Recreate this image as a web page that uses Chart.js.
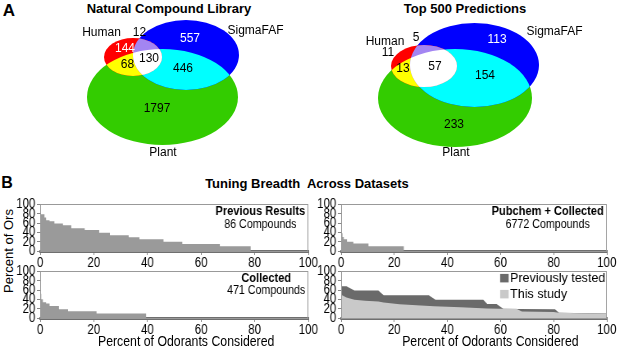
<!DOCTYPE html>
<html>
<head>
<meta charset="utf-8">
<script src="https://cdn.jsdelivr.net/npm/chart.js@4.4.1/dist/chart.umd.min.js"></script>
<style>
  html, body { margin: 0; padding: 0; background: #fff; }
  #fig { position: relative; width: 617px; height: 347px; overflow: hidden;
         font-family: "Liberation Sans", Arial, sans-serif; color: #000; }
  .t { position: absolute; white-space: pre; line-height: 1; transform: translate(-50%, -50%); }
  canvas { position: absolute; }
  /* the lower panels use a narrow type, so that block is squeezed sideways */
  #panelB { position: absolute; left: 0; top: 0; width: 753px; height: 347px;
            transform: scaleX(0.82); transform-origin: 0 0; }
</style>
</head>
<body>
<div id="fig">
  <div class="t" style="left:9px;top:10px;font-weight:bold;font-size:17px">A</div>
  <div class="t" style="left:169px;top:8px;font-weight:bold;font-size:13px">Natural Compound Library</div>
  <div class="t" style="left:465px;top:8px;font-weight:bold;font-size:13px">Top 500 Predictions</div>
  <canvas id="vennLib" width="300" height="170" style="left:0;top:0"></canvas>
  <canvas id="vennTop" width="317" height="170" style="left:300px;top:0"></canvas>

  <div class="t" style="left:7px;top:183px;font-weight:bold;font-size:16px">B</div>
  <div class="t" style="left:307px;top:183px;font-weight:bold;font-size:13px">Tuning Breadth  Across Datasets</div>
  <div class="t" style="left:8px;top:251px;font-size:13px;transform:translate(-50%,-50%) rotate(-90deg)">Percent of Ors</div>

  <div id="panelB">
    <canvas id="prev"  width="375" height="79" style="left:17px;top:194px"></canvas>
    <canvas id="pub"   width="372" height="79" style="left:384px;top:194px"></canvas>
    <canvas id="coll"  width="375" height="79" style="left:17px;top:261px"></canvas>
    <canvas id="study" width="372" height="79" style="left:384px;top:261px"></canvas>
    <div class="t" style="left:227px;top:340px;font-size:15px">Percent of Odorants Considered</div>
    <div class="t" style="left:598px;top:340px;font-size:15px">Percent of Odorants Considered</div>
  </div>
</div>

<script>
"use strict";

var FAMILY = '"Liberation Sans", Arial, sans-serif';
var SQUEEZE = 0.82;
Chart.defaults.font.family = FAMILY;
Chart.defaults.color = '#000';

// ---- Venn counts (regions: Human, Human+Sigma, Sigma, Human+Plant, all three, Sigma+Plant, Plant)
var setNames = ['Human', 'SigmaFAF', 'Plant'];
var libraryCounts = [144, 12, 557, 68, 130, 446, 1797];
var top500Counts = [11, 5, 113, 13, 57, 154, 233];

// ---- Tuning breadth: percent of odorants considered (x) vs percent of ORs (y)
var xTicks = [0, 20, 40, 60, 80, 100];
var yTicks = [0, 20, 40, 60, 80, 100];

var prevResultsX = [0, 1.6, 2.2, 3.5, 5.3, 8.5, 11.6, 16.6, 22, 26, 33, 37, 46, 53, 67, 78.5, 100];
var prevResultsY = [79, 72, 66, 64, 59, 55, 49, 45, 39, 34, 29.5, 25, 20, 15, 10, 0, 0];

var pubchemX = [0, 0.5, 1, 2.2, 4.6, 10.3, 23.6, 100];
var pubchemY = [38, 30, 25, 20, 16, 10, 0, 0];

var collectedX = [0, 0.4, 1, 2.2, 3.5, 7, 10.4, 21, 39.5, 100];
var collectedY = [52, 40, 34, 31, 26, 19, 14.5, 9.7, 0, 0];

var testedX = [0, 2, 5, 14, 16, 33, 35.5, 53.5, 55, 58.5, 61, 67, 80.5, 82, 88, 100];
var testedY = [68, 68, 59, 59, 49, 49, 39, 39, 30, 30, 20, 19.5, 19, 11.5, 10.5, 9.5];

var thisStudyX = [0, 2, 5, 9, 14, 16, 22, 30, 35, 45, 55, 60, 66, 68, 80, 82, 90, 100];
var thisStudyY = [50, 44, 39, 37, 35.5, 33, 29.5, 27, 25, 23, 20.5, 20, 20, 14, 13, 11, 10, 9];

var pts = function(xs, ys) {
  return xs.map(function(x, i) { return {x: x, y: ys[i]}; });
};

// ---------------- Venn diagrams ----------------
var vennColors = {
  human: '#ff0000', sigma: '#0000ff', plant: '#33cc00',
  humanSigma: '#a385f2', humanPlant: '#ffff00', sigmaPlant: '#00ffff', all: '#ffffff'
};

var vennPlugin = {
  id: 'venn',
  beforeDatasetsDraw: function(chart, args, opts) {
    var ctx = chart.ctx, xs = chart.scales.x, ys = chart.scales.y;
    var shape = function(e) {
      var cx = xs.getPixelForValue(e.cx), cy = ys.getPixelForValue(e.cy);
      var rx = Math.abs(xs.getPixelForValue(e.cx + e.rx) - cx);
      var ry = Math.abs(ys.getPixelForValue(e.cy + e.ry) - cy);
      var p = new Path2D();
      p.ellipse(cx, cy, rx, ry, 0, 0, Math.PI * 2);
      return p;
    };
    var h = shape(opts.human), s = shape(opts.sigma), p = shape(opts.plant);
    var c = vennColors;
    ctx.save();
    ctx.fillStyle = c.plant; ctx.fill(p);
    ctx.fillStyle = c.sigma; ctx.fill(s);
    ctx.fillStyle = c.human; ctx.fill(h);
    ctx.save(); ctx.clip(s); ctx.fillStyle = c.sigmaPlant; ctx.fill(p); ctx.restore();
    ctx.save();
    ctx.clip(h);
    ctx.fillStyle = c.humanPlant; ctx.fill(p);
    ctx.fillStyle = c.humanSigma; ctx.fill(s);
    ctx.clip(s);
    ctx.fillStyle = c.all; ctx.fill(p);
    ctx.restore();
    ctx.restore();
  },
  afterDatasetsDraw: function(chart) {
    var ctx = chart.ctx;
    ctx.save();
    ctx.font = '12px ' + FAMILY;
    ctx.textAlign = 'center';
    ctx.textBaseline = 'middle';
    chart.data.datasets.forEach(function(ds, di) {
      chart.getDatasetMeta(di).data.forEach(function(pt, i) {
        ctx.fillStyle = ds.textColors[i];
        ctx.fillText(ds.texts[i], pt.x, pt.y);
      });
    });
    ctx.restore();
  }
};

function vennChart(id, w, h, counts, countPos, countColors, namePos, shapes) {
  return new Chart(document.getElementById(id), {
    type: 'scatter',
    data: {
      datasets: [
        { data: namePos, texts: setNames, textColors: ['#000', '#000', '#000'], pointRadius: 0 },
        { data: countPos, texts: counts.map(String), textColors: countColors, pointRadius: 0 }
      ]
    },
    options: {
      responsive: false, animation: false, events: [],
      layout: { padding: 0 },
      scales: {
        x: { type: 'linear', min: 0, max: w, display: false },
        y: { type: 'linear', min: 0, max: h, reverse: true, display: false }
      },
      plugins: { legend: { display: false }, tooltip: { enabled: false }, venn: shapes }
    },
    plugins: [vennPlugin]
  });
}

vennChart('vennLib', 300, 170, libraryCounts,
  [{x: 125, y: 49}, {x: 139.5, y: 33}, {x: 190, y: 39}, {x: 127.5, y: 65},
   {x: 149, y: 59}, {x: 183, y: 69}, {x: 157, y: 109}],
  ['#fff', '#000', '#fff', '#000', '#000', '#000', '#000'],
  [{x: 101.5, y: 33}, {x: 255.5, y: 31}, {x: 163, y: 153}],
  {
    human: {cx: 133, cy: 57, rx: 29, ry: 19},
    sigma: {cx: 186, cy: 55, rx: 53, ry: 35},
    plant: {cx: 162.5, cy: 97, rx: 75.5, ry: 48}
  });

vennChart('vennTop', 317, 170, top500Counts,
  [{x: 88, y: 53}, {x: 116, y: 38}, {x: 197, y: 40}, {x: 103, y: 69},
   {x: 135, y: 67}, {x: 185, y: 76}, {x: 154, y: 125}],
  ['#000', '#000', '#fff', '#000', '#000', '#000', '#000'],
  [{x: 85, y: 42}, {x: 254.5, y: 32}, {x: 156, y: 153}],
  {
    human: {cx: 124, cy: 66, rx: 33, ry: 21},
    sigma: {cx: 174.5, cy: 65, rx: 64.5, ry: 42},
    plant: {cx: 155, cy: 98, rx: 77, ry: 49}
  });

// ---------------- Tuning breadth panels ----------------
var framePlugin = {
  id: 'frame',
  afterDatasetsDraw: function(chart) {
    var a = chart.chartArea, ctx = chart.ctx;
    ctx.save();
    ctx.strokeStyle = '#999';
    ctx.lineWidth = 1;
    ctx.strokeRect(Math.round(a.left) + 0.5, Math.round(a.top) + 0.5,
                   Math.round(a.right - a.left) - 1, Math.round(a.bottom - a.top));
    ctx.restore();
  }
};

var notePlugin = {
  id: 'note',
  afterDraw: function(chart, args, o) {
    if (!o.lines) return;
    var ctx = chart.ctx, a = chart.chartArea;
    var fonts = ['bold 13.5px ' + FAMILY, '13px ' + FAMILY];
    ctx.save();
    var widths = o.lines.map(function(t, i) { ctx.font = fonts[i]; return ctx.measureText(t).width; });
    var w = Math.max.apply(null, widths);
    var cx = a.right - 3.7 - w / 2;
    ctx.fillStyle = '#000';
    ctx.textAlign = 'center';
    ctx.textBaseline = 'middle';
    o.lines.forEach(function(t, i) {
      ctx.font = fonts[i];
      ctx.fillText(t, cx, a.top + o.offsets[i]);
    });
    ctx.restore();
  }
};

// legend drawn inside the plot, at normal width (undo the squeeze)
var cornerLegendPlugin = {
  id: 'cornerLegend',
  afterDraw: function(chart, args, o) {
    if (!o.show) return;
    var ctx = chart.ctx, a = chart.chartArea;
    var sets = chart.data.datasets;
    ctx.save();
    ctx.translate(a.right, a.top);
    ctx.scale(1 / SQUEEZE, 1);
    ctx.font = '12.5px ' + FAMILY;
    ctx.textBaseline = 'middle';
    var w = Math.max.apply(null, sets.map(function(d) { return ctx.measureText(d.label).width; }));
    var tx = -1.5 - w;
    sets.forEach(function(d, i) {
      var cy = 7 + i * 16;
      ctx.fillStyle = d.backgroundColor;
      ctx.fillRect(tx - 10, cy - 4.5, 8.5, 8.5);
      ctx.fillStyle = '#000';
      ctx.fillText(d.label, tx, cy);
    });
    ctx.restore();
  }
};

function axis(ticks, fit) {
  return {
    type: 'linear', min: 0, max: 100,
    afterBuildTicks: function(s) { s.ticks = ticks.map(function(v) { return {value: v}; }); },
    afterFit: fit,
    grid: { drawOnChartArea: false, tickLength: 4, color: '#888' },
    ticks: { autoSkip: false, maxRotation: 0, padding: 2, font: { size: 14 }, color: '#000' }
  };
}

function breadthChart(id, datasets, note, showLegend) {
  var xAxis = axis(xTicks, function(s) { s.height = 22; });
  xAxis.border = { color: '#6f6f6f', width: 3 };
  xAxis.ticks.padding = 0;
  var yAxis = axis(yTicks, function(s) { s.width = 32; });
  yAxis.border = { color: '#888', width: 1 };
  return new Chart(document.getElementById(id), {
    type: 'line',
    data: { datasets: datasets },
    options: {
      responsive: false, animation: false, events: [],
      layout: { padding: { top: 9, right: 16, left: 0, bottom: 0 } },
      elements: { point: { radius: 0 }, line: { tension: 0, borderWidth: 1, borderColor: 'rgba(0,0,0,0)' } },
      scales: { x: xAxis, y: yAxis },
      plugins: {
        legend: { display: false }, tooltip: { enabled: false },
        note: note, cornerLegend: { show: showLegend }
      }
    },
    plugins: [framePlugin, notePlugin, cornerLegendPlugin]
  });
}

function grayStep(xs, ys) {
  return { data: pts(xs, ys), stepped: true, fill: 'origin', backgroundColor: '#9a9a9a' };
}

breadthChart('prev', [grayStep(prevResultsX, prevResultsY)],
  { lines: ['Previous Results', '86 Compounds'], offsets: [7, 20.5] }, false);
breadthChart('pub', [grayStep(pubchemX, pubchemY)],
  { lines: ['Pubchem + Collected', '6772 Compounds'], offsets: [7, 20.5] }, false);
breadthChart('coll', [grayStep(collectedX, collectedY)],
  { lines: ['Collected', '471 Compounds'], offsets: [7, 19] }, false);
breadthChart('study', [
  { label: 'Previously tested', data: pts(testedX, testedY), fill: 'origin', backgroundColor: '#6a6a6a', order: 1 },
  { label: 'This study', data: pts(thisStudyX, thisStudyY), fill: 'origin', backgroundColor: '#c9c9c9', order: 0 }
], {}, true);
</script>
</body>
</html>
